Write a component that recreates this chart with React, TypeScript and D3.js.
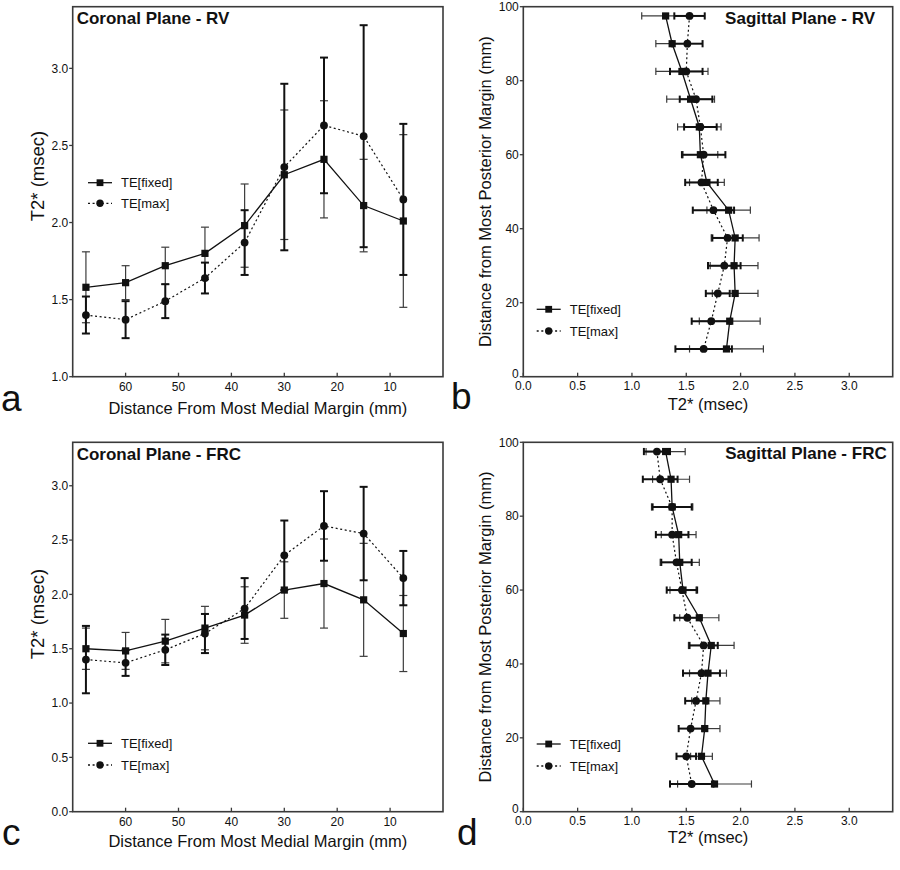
import React from "react";
import * as d3 from "d3";

// ---------- DATA ----------
const coronalDist = [67.5, 60, 52.5, 45, 37.5, 30, 22.5, 15, 7.5];
const sagittalDist = [97.5, 90, 82.5, 75, 67.5, 60, 52.5, 45, 37.5, 30, 22.5, 15, 7.5];

// Coronal Plane - RV
const rvCorFixed = [1.58, 1.61, 1.72, 1.8, 1.98, 2.31, 2.41, 2.11, 2.01];
const rvCorFixedErr = [0.23, 0.11, 0.12, 0.17, 0.27, 0.42, 0.38, 0.3, 0.56];
const rvCorMax = [1.4, 1.37, 1.49, 1.64, 1.87, 2.36, 2.63, 2.56, 2.15];
const rvCorMaxErr = [0.12, 0.12, 0.11, 0.1, 0.21, 0.54, 0.44, 0.72, 0.49];

// Coronal Plane - FRC
const frcCorFixed = [1.5, 1.48, 1.57, 1.69, 1.81, 2.04, 2.1, 1.95, 1.64];
const frcCorFixedErr = [0.19, 0.17, 0.2, 0.2, 0.26, 0.26, 0.41, 0.52, 0.35];
const frcCorMax = [1.4, 1.37, 1.49, 1.64, 1.87, 2.36, 2.63, 2.56, 2.15];
const frcCorMaxErr = [0.31, 0.12, 0.14, 0.18, 0.28, 0.32, 0.32, 0.43, 0.25];

// Sagittal Plane - RV
const rvSagFixed = [1.31, 1.37, 1.46, 1.54, 1.62, 1.63, 1.69, 1.89, 1.95, 1.94, 1.95, 1.9, 1.87];
const rvSagFixedErr = [0.22, 0.15, 0.24, 0.22, 0.2, 0.16, 0.16, 0.2, 0.22, 0.22, 0.21, 0.28, 0.34];
const rvSagMax = [1.53, 1.51, 1.5, 1.59, 1.63, 1.66, 1.64, 1.75, 1.88, 1.85, 1.79, 1.73, 1.66];
const rvSagMaxErr = [0.14, 0.14, 0.15, 0.15, 0.15, 0.2, 0.15, 0.19, 0.14, 0.15, 0.11, 0.18, 0.26];

// Sagittal Plane - FRC
const frcSagFixed = [1.31, 1.36, 1.37, 1.43, 1.44, 1.47, 1.62, 1.73, 1.7, 1.68, 1.67, 1.64, 1.76];
const frcSagFixedErr = [0.18, 0.17, 0.19, 0.16, 0.18, 0.12, 0.18, 0.21, 0.17, 0.13, 0.14, 0.1, 0.34];
const frcSagMax = [1.23, 1.26, 1.37, 1.37, 1.41, 1.46, 1.51, 1.66, 1.64, 1.59, 1.54, 1.5, 1.55];
const frcSagMaxErr = [0.12, 0.16, 0.18, 0.15, 0.14, 0.14, 0.12, 0.13, 0.17, 0.1, 0.11, 0.09, 0.2];

const seriesNames = ["TE[fixed]", "TE[max]"];
const coronalXTicks = [60, 50, 40, 30, 20, 10];
const rvCorYTicks = [1.0, 1.5, 2.0, 2.5, 3.0];
const frcCorYTicks = [0.0, 0.5, 1.0, 1.5, 2.0, 2.5, 3.0];
const sagXTicks = [0, 0.5, 1.0, 1.5, 2.0, 2.5, 3.0];
const sagYTicks = [0, 20, 40, 60, 80, 100];

const FONT = "'Liberation Sans', Arial, Helvetica, sans-serif";
const INK = "#111";

type Box = { x0: number; x1: number; y0: number; y1: number };

function Markers({ pts, shape }: { pts: [number, number][]; shape: "sq" | "ci" }) {
  return (
    <g>
      {pts.map(([x, y], i) =>
        shape === "sq" ? (
          <rect key={i} x={x - 3.6} y={y - 3.6} width={7.2} height={7.2} fill={INK} />
        ) : (
          <circle key={i} cx={x} cy={y} r={3.9} fill={INK} />
        )
      )}
    </g>
  );
}

function Legend({ lx, ly1, ly2 }: { lx: number; ly1: number; ly2: number }) {
  return (
    <g fontFamily={FONT} fontSize={13} fill={INK}>
      <line x1={lx} x2={lx + 24} y1={ly1} y2={ly1} stroke={INK} strokeWidth={1.3} />
      <rect x={lx + 12 - 3.4} y={ly1 - 3.4} width={6.8} height={6.8} fill={INK} />
      <text x={lx + 33} y={ly1 + 4.6}>{seriesNames[0]}</text>
      <line x1={lx} x2={lx + 24} y1={ly2} y2={ly2} stroke={INK} strokeWidth={1.3} strokeDasharray="2,2.6" />
      <circle cx={lx + 12} cy={ly2} r={3.7} fill={INK} />
      <text x={lx + 33} y={ly2 + 4.6}>{seriesNames[1]}</text>
    </g>
  );
}

function Frame({ b }: { b: Box }) {
  return (
    <rect x={b.x0} y={b.y0} width={b.x1 - b.x0} height={b.y1 - b.y0} fill="none" stroke="#3a3a3a" strokeWidth={1.6} />
  );
}

function CoronalPanel(props: {
  b: Box;
  yMin: number;
  yTicks: number[];
  fixed: number[];
  fixedErr: number[];
  max: number[];
  maxErr: number[];
  title: string;
  legendY: [number, number];
  yLabelCenter: number;
  xLabelBaseline: number;
}) {
  const { b } = props;
  const x = d3.scaleLinear().domain([70, 0]).range([b.x0, b.x1]);
  const y = d3.scaleLinear().domain([props.yMin, 3.4]).range([b.y1, b.y0]);
  const line = d3
    .line<number>()
    .x((_, i) => x(coronalDist[i]))
    .y((d) => y(d));
  const cap = 4;
  const errBars = (vals: number[], errs: number[], sw: number, col: string) =>
    vals.map((v, i) => {
      const cx = x(coronalDist[i]);
      const lo = y(v - errs[i]);
      const hi = y(v + errs[i]);
      return (
        <g key={i} stroke={col} strokeWidth={sw}>
          <line x1={cx} x2={cx} y1={lo} y2={hi} />
          <line x1={cx - cap} x2={cx + cap} y1={lo} y2={lo} />
          <line x1={cx - cap} x2={cx + cap} y1={hi} y2={hi} />
        </g>
      );
    });
  return (
    <g>
      {errBars(props.fixed, props.fixedErr, 1.2, "#3c3c3c")}
      {errBars(props.max, props.maxErr, 2, INK)}
      <path d={line(props.fixed) || ""} fill="none" stroke={INK} strokeWidth={1.3} />
      <path d={line(props.max) || ""} fill="none" stroke={INK} strokeWidth={1.2} strokeDasharray="2,2.6" />
      <Markers pts={props.fixed.map((v, i) => [x(coronalDist[i]), y(v)] as [number, number])} shape="sq" />
      <Markers pts={props.max.map((v, i) => [x(coronalDist[i]), y(v)] as [number, number])} shape="ci" />
      <Frame b={b} />
      <g fontFamily={FONT} fontSize={12} fill={INK} textAnchor="middle">
        {coronalXTicks.map((t) => (
          <g key={t}>
            <line x1={x(t)} x2={x(t)} y1={b.y1} y2={b.y1 - 4} stroke="#3a3a3a" strokeWidth={1.3} />
            <text x={x(t)} y={b.y1 + 14.5}>{t}</text>
          </g>
        ))}
      </g>
      <g fontFamily={FONT} fontSize={12} fill={INK} textAnchor="end">
        {props.yTicks.map((t) => (
          <g key={t}>
            <line x1={b.x0} x2={b.x0 - 3.5} y1={y(t)} y2={y(t)} stroke="#3a3a3a" strokeWidth={1.3} />
            <text x={b.x0 - 4.5} y={y(t) + 4.3}>{t.toFixed(1)}</text>
          </g>
        ))}
      </g>
      <text x={b.x0 + 4} y={b.y0 + 17.5} fontFamily={FONT} fontWeight="bold" fontSize={17} fill={INK}>
        {props.title}
      </text>
      <Legend lx={b.x0 + 15.3} ly1={props.legendY[0]} ly2={props.legendY[1]} />
      <text
        x={(b.x0 + b.x1) / 2}
        y={props.xLabelBaseline}
        textAnchor="middle"
        fontFamily={FONT}
        fontSize={16.5}
        fill={INK}
      >
        Distance From Most Medial Margin (mm)
      </text>
      <text
        transform={`translate(44,${props.yLabelCenter}) rotate(-90)`}
        textAnchor="middle"
        fontFamily={FONT}
        fontSize={18.5}
        fill={INK}
      >
        T2* (msec)
      </text>
    </g>
  );
}

function SagittalPanel(props: {
  b: Box;
  fixed: number[];
  fixedErr: number[];
  max: number[];
  maxErr: number[];
  title: string;
  titleRight: number;
  legendY: [number, number];
  xLabelBaseline: number;
}) {
  const { b } = props;
  const x = d3.scaleLinear().domain([0, 3.4]).range([b.x0, b.x1]);
  const y = d3.scaleLinear().domain([0, 100]).range([b.y1, b.y0]);
  const line = d3
    .line<number>()
    .x((d) => x(d))
    .y((_, i) => y(sagittalDist[i]));
  const cap = 3.6;
  const errBars = (vals: number[], errs: number[], sw: number, col: string) =>
    vals.map((v, i) => {
      const cy = y(sagittalDist[i]);
      const lo = x(v - errs[i]);
      const hi = x(v + errs[i]);
      return (
        <g key={i} stroke={col} strokeWidth={sw}>
          <line x1={lo} x2={hi} y1={cy} y2={cy} />
          <line x1={lo} x2={lo} y1={cy - cap} y2={cy + cap} />
          <line x1={hi} x2={hi} y1={cy - cap} y2={cy + cap} />
        </g>
      );
    });
  return (
    <g>
      {errBars(props.fixed, props.fixedErr, 1.2, "#3c3c3c")}
      {errBars(props.max, props.maxErr, 2, INK)}
      <path d={line(props.fixed) || ""} fill="none" stroke={INK} strokeWidth={1.3} />
      <path d={line(props.max) || ""} fill="none" stroke={INK} strokeWidth={1.2} strokeDasharray="2,2.6" />
      <Markers pts={props.fixed.map((v, i) => [x(v), y(sagittalDist[i])] as [number, number])} shape="sq" />
      <Markers pts={props.max.map((v, i) => [x(v), y(sagittalDist[i])] as [number, number])} shape="ci" />
      <Frame b={b} />
      <g fontFamily={FONT} fontSize={12} fill={INK} textAnchor="middle">
        {sagXTicks.map((t) => (
          <g key={t}>
            <line x1={x(t)} x2={x(t)} y1={b.y1} y2={b.y1 - 4} stroke="#3a3a3a" strokeWidth={1.3} />
            <text x={x(t)} y={b.y1 + 13.5}>{t.toFixed(1)}</text>
          </g>
        ))}
      </g>
      <g fontFamily={FONT} fontSize={12} fill={INK} textAnchor="end">
        {sagYTicks.map((t) => (
          <g key={t}>
            <line x1={b.x0} x2={b.x0 - 3.5} y1={y(t)} y2={y(t)} stroke="#3a3a3a" strokeWidth={1.3} />
            <text x={b.x0 - 4.5} y={y(t) + (t === 0 ? 1.5 : 4.3)}>{t}</text>
          </g>
        ))}
      </g>
      <text
        x={props.titleRight}
        y={b.y0 + 17}
        textAnchor="end"
        fontFamily={FONT}
        fontWeight="bold"
        fontSize={17}
        fill={INK}
      >
        {props.title}
      </text>
      <Legend lx={b.x0 + 13.4} ly1={props.legendY[0]} ly2={props.legendY[1]} />
      <text
        x={(b.x0 + b.x1) / 2}
        y={props.xLabelBaseline}
        textAnchor="middle"
        fontFamily={FONT}
        fontSize={16.5}
        fill={INK}
      >
        T2* (msec)
      </text>
      <text
        transform={`translate(491,${(b.y0 + b.y1) / 2}) rotate(-90)`}
        textAnchor="middle"
        fontFamily={FONT}
        fontSize={16.5}
        fill={INK}
      >
        Distance from Most Posterior Margin (mm)
      </text>
    </g>
  );
}

export default function App() {
  const A: Box = { x0: 72.7, x1: 443, y0: 6.7, y1: 376.7 };
  const B: Box = { x0: 523.3, x1: 892.7, y0: 6.7, y1: 376.7 };
  const C: Box = { x0: 72.7, x1: 443, y0: 442.3, y1: 811.7 };
  const D: Box = { x0: 523.3, x1: 892.7, y0: 442.3, y1: 811.7 };
  return (
    <svg
      width={900}
      height={870}
      viewBox="0 0 900 870"
      style={{ position: "absolute", left: 0, top: 0, background: "#fff" }}
    >
      <rect x={0} y={0} width={900} height={870} fill="#fff" />
      <CoronalPanel
        b={A}
        yMin={1.0}
        yTicks={rvCorYTicks}
        fixed={rvCorFixed}
        fixedErr={rvCorFixedErr}
        max={rvCorMax}
        maxErr={rvCorMaxErr}
        title="Coronal Plane - RV"
        legendY={[182.7, 203.3]}
        yLabelCenter={176}
        xLabelBaseline={414}
      />
      <SagittalPanel
        b={B}
        fixed={rvSagFixed}
        fixedErr={rvSagFixedErr}
        max={rvSagMax}
        maxErr={rvSagMaxErr}
        title="Sagittal Plane - RV"
        titleRight={875}
        legendY={[309.3, 331]}
        xLabelBaseline={410}
      />
      <CoronalPanel
        b={C}
        yMin={0}
        yTicks={frcCorYTicks}
        fixed={frcCorFixed}
        fixedErr={frcCorFixedErr}
        max={frcCorMax}
        maxErr={frcCorMaxErr}
        title="Coronal Plane - FRC"
        legendY={[743.3, 765]}
        yLabelCenter={614}
        xLabelBaseline={847}
      />
      <SagittalPanel
        b={D}
        fixed={frcSagFixed}
        fixedErr={frcSagFixedErr}
        max={frcSagMax}
        maxErr={frcSagMaxErr}
        title="Sagittal Plane - FRC"
        titleRight={886.7}
        legendY={[744, 766]}
        xLabelBaseline={843}
      />
      <g fontFamily={FONT} fontSize={37} fill={INK}>
        <text x={1} y={411}>a</text>
        <text x={451} y={409}>b</text>
        <text x={2} y={845}>c</text>
        <text x={457} y={845}>d</text>
      </g>
    </svg>
  );
}
